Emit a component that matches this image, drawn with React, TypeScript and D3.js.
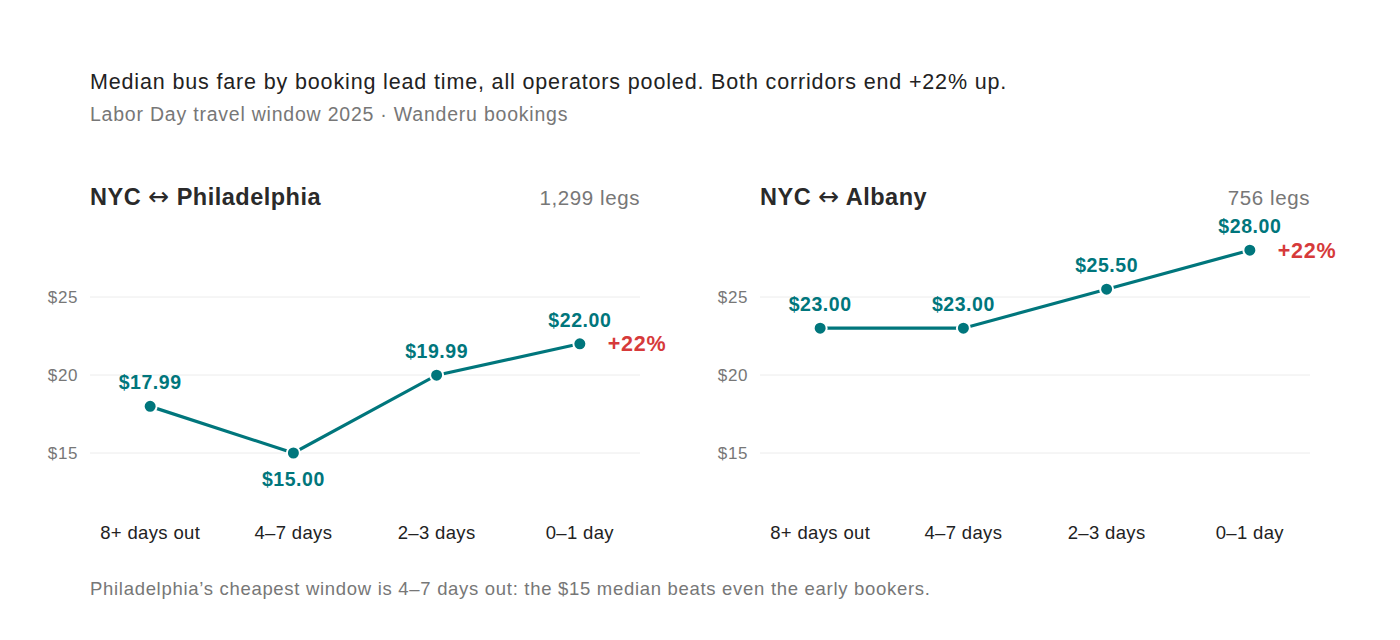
import { useEffect, useRef } from 'react';
import * as d3 from 'd3';

const LEAD_TIMES = ['8+ days out', '4–7 days', '2–3 days', '0–1 day'];
const PHILLY_FARES = [17.99, 15.0, 19.99, 22.0];
const ALBANY_FARES = [23.0, 23.0, 25.5, 28.0];
const Y_TICKS = [15, 20, 25];
const PANELS = [
  { title: 'NYC ↔ Philadelphia', legs: '1,299 legs', fares: PHILLY_FARES, change: '+22%' },
  { title: 'NYC ↔ Albany', legs: '756 legs', fares: ALBANY_FARES, change: '+22%' },
];

const TEAL = '#00767c';
const RED = '#d63a3a';
const FONT = '"Liberation Sans", Arial, Helvetica, sans-serif';

export default function App() {
  const svgRef = useRef<SVGSVGElement>(null);

  useEffect(() => {
    document.body.style.margin = '0';
    if (!svgRef.current) return;
    const svg = d3.select(svgRef.current);
    svg.selectAll('*').remove();

    svg.append('text')
      .attr('x', 90).attr('y', 89)
      .attr('font-size', '21.5px').attr('letter-spacing', '0.85px').attr('fill', '#222')
      .text('Median bus fare by booking lead time, all operators pooled. Both corridors end +22% up.');
    svg.append('text')
      .attr('x', 90).attr('y', 121)
      .attr('font-size', '19.5px').attr('letter-spacing', '0.78px').attr('fill', '#777')
      .text('Labor Day travel window 2025 · Wanderu bookings');

    const plotW = 550;
    const yScale = d3.scaleLinear().domain([12, 30]).range([499.8, 219]);
    const xScale = d3.scalePoint<string>().domain(LEAD_TIMES).range([0, plotW]).padding(0.42);

    PANELS.forEach((panel, pi) => {
      const g = svg.append('g').attr('transform', `translate(${90 + pi * 670},0)`);

      // title: the arrow comes from DejaVu so it is wide like the original
      const [from, to] = panel.title.split(' ↔ ');
      const title = g.append('text')
        .attr('x', 0).attr('y', 205)
        .attr('font-size', '23.5px').attr('letter-spacing', '0.5px')
        .attr('font-weight', 'bold').attr('fill', '#2a2a2a');
      title.append('tspan').text(`${from} `);
      title.append('tspan')
        .attr('font-family', '"DejaVu Sans", sans-serif')
        .attr('font-weight', 'normal')
        .attr('font-size', '25px')
        .text('↔');
      title.append('tspan').text(` ${to}`);

      g.append('text')
        .attr('x', plotW).attr('y', 205)
        .attr('text-anchor', 'end')
        .attr('font-size', '20.5px').attr('letter-spacing', '0.6px').attr('fill', '#777')
        .text(panel.legs);

      // Grid + y labels
      g.append('g')
        .selectAll('line')
        .data(Y_TICKS)
        .join('line')
        .attr('x1', 0).attr('x2', plotW)
        .attr('y1', d => yScale(d)).attr('y2', d => yScale(d))
        .attr('stroke', '#ececec');
      g.append('g')
        .selectAll('text')
        .data(Y_TICKS)
        .join('text')
        .attr('x', -12).attr('y', d => yScale(d))
        .attr('dy', '0.35em')
        .attr('text-anchor', 'end')
        .attr('font-size', '17px').attr('letter-spacing', '0.6px').attr('fill', '#777')
        .text(d => `$${d}`);

      // X labels
      g.append('g')
        .selectAll('text')
        .data(LEAD_TIMES)
        .join('text')
        .attr('x', d => xScale(d) ?? 0).attr('y', 539)
        .attr('text-anchor', 'middle')
        .attr('font-size', '18.5px').attr('letter-spacing', '0.35px').attr('fill', '#222')
        .text(d => d);

      const pts = panel.fares.map((v, i) => ({ cat: LEAD_TIMES[i], v }));
      const line = d3.line<{ cat: string; v: number }>()
        .x(d => xScale(d.cat) ?? 0)
        .y(d => yScale(d.v));

      g.append('path')
        .datum(pts)
        .attr('fill', 'none')
        .attr('stroke', TEAL)
        .attr('stroke-width', 3.2)
        .attr('d', line);

      g.append('g')
        .selectAll('circle')
        .data(pts)
        .join('circle')
        .attr('cx', d => xScale(d.cat) ?? 0)
        .attr('cy', d => yScale(d.v))
        .attr('r', 6.5)
        .attr('fill', TEAL)
        .attr('stroke', '#fff')
        .attr('stroke-width', 2);

      // Cheapest Philadelphia point gets its label underneath
      const minV = d3.min(panel.fares) as number;
      const minIdx = panel.fares.indexOf(minV);
      const labelBelow = (i: number) => pi === 0 && i === minIdx;

      g.append('g')
        .selectAll('text')
        .data(pts)
        .join('text')
        .attr('x', d => xScale(d.cat) ?? 0)
        .attr('y', (d, i) => yScale(d.v) + (labelBelow(i) ? 33 : -17))
        .attr('text-anchor', 'middle')
        .attr('font-size', '19.5px').attr('letter-spacing', '0.55px')
        .attr('font-weight', 'bold').attr('fill', TEAL)
        .text(d => `$${d.v.toFixed(2)}`);

      const last = pts[pts.length - 1];
      g.append('text')
        .attr('x', (xScale(last.cat) ?? 0) + 28)
        .attr('y', yScale(last.v))
        .attr('dy', '0.35em')
        .attr('font-size', '21.5px').attr('letter-spacing', '0.7px')
        .attr('font-weight', 'bold').attr('fill', RED)
        .text(panel.change);
    });

    svg.append('text')
      .attr('x', 90).attr('y', 595)
      .attr('font-size', '18.5px').attr('letter-spacing', '0.7px').attr('fill', '#777')
      .text('Philadelphia’s cheapest window is 4–7 days out: the $15 median beats even the early bookers.');
  }, []);

  return <svg ref={svgRef} width={1400} height={640} style={{ display: 'block', fontFamily: FONT }} />;
}
